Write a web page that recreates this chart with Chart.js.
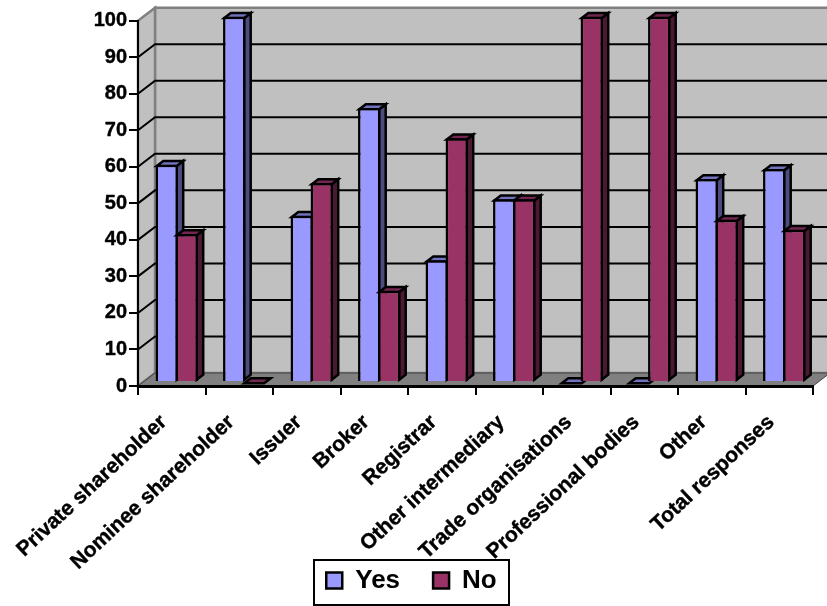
<!DOCTYPE html>
<html>
<head>
<meta charset="utf-8">
<style>
  html, body { margin: 0; padding: 0; background: #fff; }
  canvas { display: block; }
</style>
<script src="https://cdn.jsdelivr.net/npm/chart.js@4/dist/chart.umd.min.js"></script>
</head>
<body>
<canvas id="chart" width="827" height="606"></canvas>
<script>
const categories = ["Private shareholder", "Nominee shareholder", "Issuer", "Broker", "Registrar", "Other intermediary", "Trade organisations", "Professional bodies", "Other", "Total responses"];
const yes = [59.5, 100, 45.5, 75, 33.3, 50, 0, 0, 55.6, 58.3];
const no = [40.5, 0, 54.5, 25, 66.7, 50, 100, 100, 44.4, 41.7];
const yTicks = [0, 10, 20, 30, 40, 50, 60, 70, 80, 90, 100];

const font = "'Liberation Sans', Arial, sans-serif";
const wallDepth = { x: 17, y: 13 };
const barDepth = { x: 6.5, y: 5 };
const barShift = { x: 5, y: -4 };
const barLine = 2.5;
const faces = [
  { side: "#4c4c80", top: "#7272bf" },
  { side: "#4c1933", top: "#732650" }
];

function poly(ctx, pts, fill, stroke, width) {
  ctx.beginPath();
  pts.forEach((p, i) => i ? ctx.lineTo(p[0], p[1]) : ctx.moveTo(p[0], p[1]));
  ctx.closePath();
  if (fill) { ctx.fillStyle = fill; ctx.fill(); }
  if (stroke) { ctx.strokeStyle = stroke; ctx.lineWidth = width; ctx.lineJoin = "miter"; ctx.stroke(); }
}

// the box behind the bars: walls, floor and their grid lines
const walls = {
  id: "walls",
  // the long x labels run down past the axis box, which would clip them
  afterLayout(chart) {
    chart.scales.x.bottom = chart.height;
  },
  beforeDraw(chart) {
    const ctx = chart.ctx, y = chart.scales.y, a = chart.chartArea;
    const dx = wallDepth.x, dy = wallDepth.y;
    const top = y.getPixelForValue(100), bottom = y.getPixelForValue(0);
    ctx.save();
    poly(ctx, [[a.left + dx, top - dy], [a.right + dx, top - dy], [a.right + dx, bottom - dy], [a.left + dx, bottom - dy]], "#c0c0c0", "#808080", 2.5);
    poly(ctx, [[a.left, top], [a.left + dx, top - dy], [a.left + dx, bottom - dy], [a.left, bottom]], "#c0c0c0", "#808080", 2.5);
    poly(ctx, [[a.left, bottom], [a.left + dx, bottom - dy], [a.right + dx, bottom - dy], [a.right, bottom]], "#808080", "#404040", 1);
    ctx.strokeStyle = "#000";
    ctx.lineWidth = 2;
    yTicks.slice(1, -1).forEach(v => {
      const py = y.getPixelForValue(v);
      ctx.beginPath();
      ctx.moveTo(a.left, py);
      ctx.lineTo(a.left + dx, py - dy);
      ctx.lineTo(a.right + dx, py - dy);
      ctx.stroke();
    });
    ctx.restore();
  }
};

// Chart.js paints the last dataset first, but here No has to cover the side of Yes,
// so the normal pass is skipped and both are painted left to right with their 3d faces
const bars3d = {
  id: "bars3d",
  beforeDatasetDraw() {
    return false;
  },
  afterDatasetsDraw(chart) {
    const ctx = chart.ctx;
    const dx = barDepth.x, dy = barDepth.y;
    const inset = barLine / 2;
    [0, 1].forEach(i => {
      const meta = chart.getDatasetMeta(i);
      ctx.save();
      ctx.translate(barShift.x, barShift.y);
      meta.data.forEach(bar => {
        const l = bar.x - bar.width / 2 + inset, r = bar.x + bar.width / 2 - inset;
        const t = Math.min(bar.y, bar.base) + inset, b = bar.base - inset;
        if (t < b) poly(ctx, [[r, t], [r + dx, t - dy], [r + dx, b - dy], [r, b]], faces[i].side, "#000", barLine);
        poly(ctx, [[l, t], [l + dx, t - dy], [r + dx, t - dy], [r, t]], faces[i].top, "#000", barLine);
      });
      meta.controller.draw();
      ctx.restore();
    });
  }
};

const legendBorder = {
  id: "legendBorder",
  afterDraw(chart) {
    const ctx = chart.ctx;
    ctx.save();
    ctx.strokeStyle = "#000";
    ctx.lineWidth = 2;
    ctx.strokeRect(314, 560, 195, 45);
    ctx.restore();
  }
};

new Chart(document.getElementById("chart").getContext("2d"), {
  type: "bar",
  data: {
    labels: categories,
    datasets: [
      { label: "Yes", data: yes, backgroundColor: "#9999ff", borderColor: "#000", borderWidth: barLine },
      { label: "No", data: no, backgroundColor: "#993366", borderColor: "#000", borderWidth: 2.5 }
    ]
  },
  plugins: [walls, bars3d, legendBorder],
  options: {
    responsive: false,
    animation: false,
    barPercentage: 1.12,
    categoryPercentage: 0.593,
    layout: { padding: { top: 20.7, right: 14, bottom: 2.5, left: 10 } },
    plugins: {
      tooltip: { enabled: false },
      legend: {
        position: "bottom",
        labels: {
          boxWidth: 16,
          boxHeight: 16,
          padding: 33,
          color: "#000",
          font: { family: font, size: 26, weight: "bold" }
        }
      }
    },
    scales: {
      x: {
        afterFit(scale) { scale.height = 148.5; },
        grid: { drawOnChartArea: false, color: "#000", lineWidth: 2, tickLength: 9 },
        border: { color: "#000", width: 3 },
        ticks: {
          autoSkip: false,
          minRotation: 43,
          maxRotation: 43,
          padding: 15,
          labelOffset: -8,
          color: "#000",
          textStrokeColor: "#000",
          textStrokeWidth: 0.4,
          font: { family: font, size: 21, weight: "bold" }
        }
      },
      y: {
        min: 0,
        max: 100,
        afterFit(scale) { scale.width = 128; },
        afterBuildTicks(scale) { scale.ticks = yTicks.map(v => ({ value: v })); },
        grid: { drawOnChartArea: false, color: "#000", lineWidth: 2, tickLength: 9 },
        border: { color: "#000", width: 2 },
        ticks: {
          padding: 2,
          color: "#000",
          textStrokeColor: "#000",
          textStrokeWidth: 0.4,
          font: { family: font, size: 20, weight: "bold" }
        }
      }
    }
  }
});
</script>
</body>
</html>
